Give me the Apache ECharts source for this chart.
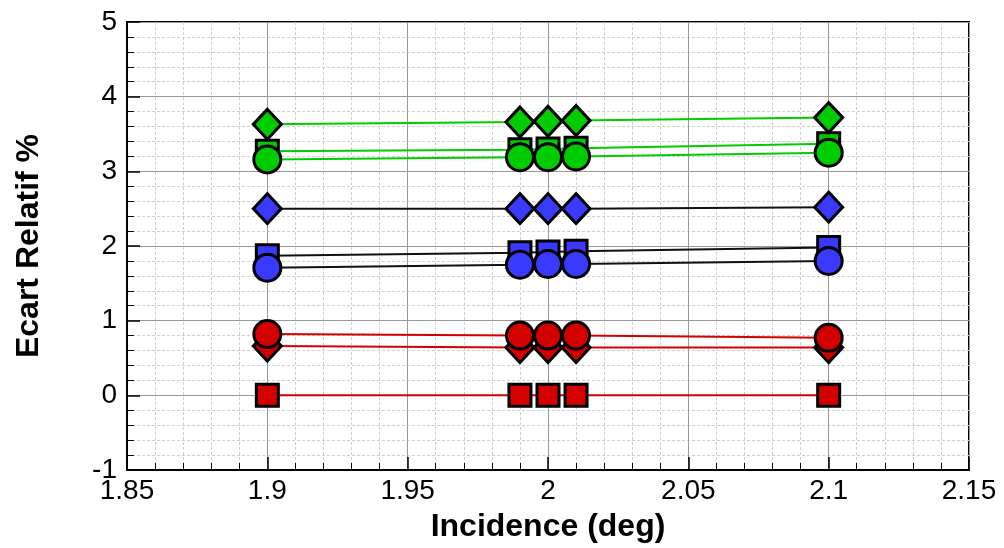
<!DOCTYPE html>
<html><head><meta charset="utf-8">
<script src="https://cdn.jsdelivr.net/npm/echarts@6/dist/echarts.min.js"></script>
<style>html,body{margin:0;padding:0;background:#fff}#c{width:1004px;height:548px}</style>
</head><body><div id="c"></div>
<script>
const xValues = [1.9, 1.99, 2.0, 2.01, 2.1];
const greenDiamond = [3.63, 3.66, 3.67, 3.68, 3.72];
const greenSquare  = [3.27, 3.29, 3.30, 3.31, 3.37];
const greenCircle  = [3.16, 3.19, 3.19, 3.20, 3.25];
const blueDiamond  = [2.50, 2.50, 2.50, 2.50, 2.52];
const blueSquare   = [1.87, 1.91, 1.92, 1.93, 1.98];
const blueCircle   = [1.71, 1.75, 1.76, 1.76, 1.80];
const redCircle    = [0.82, 0.80, 0.80, 0.80, 0.77];
const redDiamond   = [0.66, 0.64, 0.64, 0.64, 0.64];
const redSquare    = [0, 0, 0, 0, 0];

const RED = '#d40000', BLUE = '#3a3aff', GREEN = '#00cc00';
const shapes = {
  square: {symbol: 'rect', size: 22, z: 2},
  diamond: {symbol: 'diamond', size: [28, 30], z: 3},
  circle: {symbol: 'circle', size: 27, z: 4}
};
function mk(name, vals, shape, fill, lineColor) {
  const s = shapes[shape];
  return {
    name, type: 'line', z: s.z,
    data: xValues.map((x, i) => [x, vals[i]]),
    symbol: s.symbol, symbolSize: s.size, showSymbol: true,
    lineStyle: {color: lineColor, width: 2},
    itemStyle: {color: fill, borderColor: '#000', borderWidth: 3},
    emphasis: {disabled: true}, animation: false
  };
}
const font = 'Liberation Sans, Arial, sans-serif';
const chart = echarts.init(document.getElementById('c'));
chart.setOption({
  animation: false,
  grid: {left: 127, right: 35, top: 22, bottom: 78, outerBoundsMode: 'none', containLabel: false,
         show: true, borderColor: '#000', borderWidth: 2, backgroundColor: 'transparent'},
  xAxis: {
    type: 'value', min: 1.85, max: 2.15, interval: 0.05,
    name: 'Incidence (deg)', nameLocation: 'middle', nameGap: 41,
    nameTextStyle: {fontFamily: font, fontWeight: 'bold', fontSize: 32, color: '#000'},
    axisLine: {show: true, onZero: false, lineStyle: {color: '#000', width: 2}},
    axisTick: {show: true, inside: true, length: 13, lineStyle: {color: '#000', width: 1.5}},
    minorTick: {show: true, splitNumber: 5, length: 7, lineStyle: {color: '#000', width: 1}},
    axisLabel: {fontFamily: font, fontSize: 28, color: '#000', margin: 7},
    splitLine: {show: true, lineStyle: {color: '#999', width: 1}},
    minorSplitLine: {show: true, lineStyle: {color: '#cfcfcf', width: 1, type: [3, 2]}}
  },
  yAxis: {
    type: 'value', min: -1, max: 5, interval: 1,
    name: 'Ecart Relatif %', nameLocation: 'middle', nameGap: 82, nameRotate: 90,
    nameTextStyle: {fontFamily: font, fontWeight: 'bold', fontSize: 32, color: '#000'},
    axisLine: {show: true, onZero: false, lineStyle: {color: '#000', width: 2}},
    axisTick: {show: true, inside: true, length: 13, lineStyle: {color: '#000', width: 1.5}},
    minorTick: {show: true, splitNumber: 5, length: 7, lineStyle: {color: '#000', width: 1}},
    axisLabel: {fontFamily: font, fontSize: 28, color: '#000', margin: 10},
    splitLine: {show: true, lineStyle: {color: '#999', width: 1}},
    minorSplitLine: {show: true, lineStyle: {color: '#cfcfcf', width: 1, type: [3, 2]}}
  },
  series: [
    mk('redSquare', redSquare, 'square', RED, RED),
    mk('blueSquare', blueSquare, 'square', BLUE, '#111'),
    mk('greenSquare', greenSquare, 'square', GREEN, GREEN),
    mk('redDiamond', redDiamond, 'diamond', RED, RED),
    mk('blueDiamond', blueDiamond, 'diamond', BLUE, '#111'),
    mk('greenDiamond', greenDiamond, 'diamond', GREEN, GREEN),
    mk('redCircle', redCircle, 'circle', RED, RED),
    mk('blueCircle', blueCircle, 'circle', BLUE, '#111'),
    mk('greenCircle', greenCircle, 'circle', GREEN, GREEN)
  ]
});
</script></body></html>
